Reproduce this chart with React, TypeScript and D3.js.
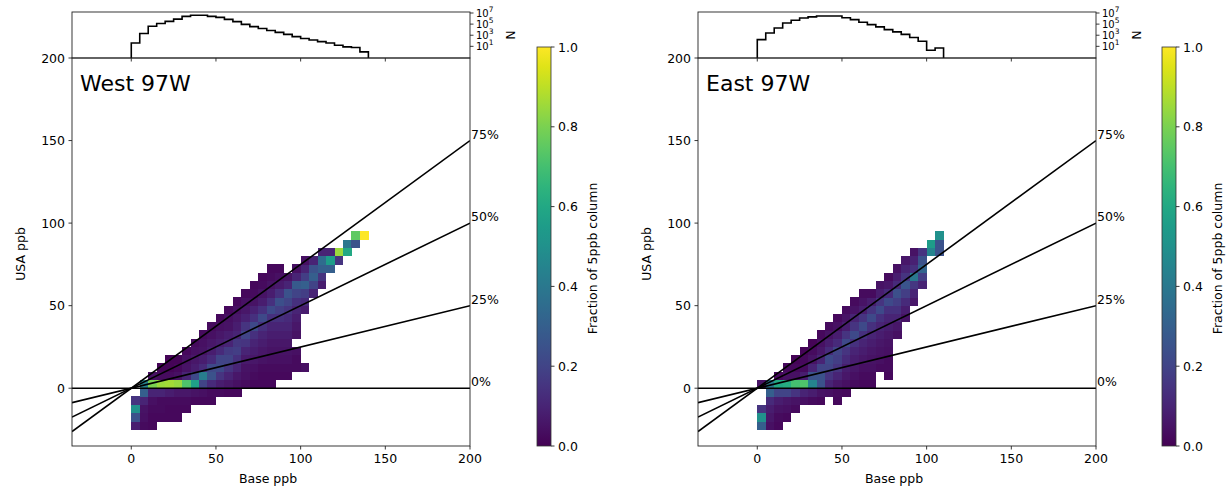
import React from 'react';
import * as d3 from 'd3';

// ---------- data ----------
const pctSlopes = [0.75, 0.5, 0.25, 0];
const pctLabels = ['75%', '50%', '25%', '0%'];
const xTickVals = [0, 50, 100, 150, 200];
const yTickVals = [0, 50, 100, 150, 200];
const histXTicks = [0, 50, 100, 150];
const histExpTicks = [1, 3, 5, 7];
const cbTickVals = [0, 0.2, 0.4, 0.6, 0.8, 1.0];
const cbTickLabels = ['0.0', '0.2', '0.4', '0.6', '0.8', '1.0'];
const binWidth = 5;

// N per 5 ppb Base bin (starting at 0 ppb)
const westHistN = [40, 2000, 40000, 125000, 316000, 800000, 2500000, 4000000, 4000000, 2500000,
  1600000, 700000, 280000, 90000, 35000, 16000, 7000, 3200, 1400, 560, 250, 140, 70, 40, 16, 8, 6, 1];
const eastHistN = [160, 2500, 20000, 160000, 500000, 1250000, 2000000, 2800000, 2800000, 2800000,
  1400000, 630000, 220000, 80000, 32000, 10000, 4000, 1400, 400, 80, 2, 5];

// lowest 5 ppb USA row of each Base column (row j covers 5j..5j+5)
const westColLo = [-5, -5, -5, -4, -4, -4, -3, -2, -2, -2, -1, -1, -1, 0, 0, 0, 0, 1, 1, 2, 2, 11, 12, 14, 15, 16, 17, 18];
// fraction of the column in each cell, from lowest row upward (null = empty)
const westColVals: (number | null)[][] = [
  [0.08, 0.25, 0.5, 0.15],
  [0.03, 0.04, 0.05, 0.1, 0.3, 0.45],
  [0.02, 0.02, 0.03, 0.04, 0.1, 0.8, 0.04],
  [0.02, 0.03, 0.03, 0.1, 0.85, 0.03, 0.01],
  [0.02, 0.02, 0.03, 0.08, 0.86, 0.03, 0.01, 0.01],
  [0.02, 0.02, 0.03, 0.06, 0.84, 0.04, 0.02, 0.01],
  [0.02, 0.03, 0.06, 0.72, 0.1, 0.05, 0.04, 0.02],
  [0.02, 0.05, 0.57, 0.22, 0.08, 0.06, 0.04, 0.03],
  [0.02, 0.04, 0.2, 0.42, 0.12, 0.08, 0.05, 0.04, 0.03],
  [0.02, 0.03, 0.12, 0.25, 0.22, 0.12, 0.08, 0.06, 0.04, 0.03],
  [0.03, 0.08, 0.15, 0.22, 0.2, 0.12, 0.08, 0.06, 0.04, 0.02],
  [0.02, 0.06, 0.1, 0.15, 0.2, 0.17, 0.1, 0.08, 0.05, 0.04, 0.02],
  [0.02, 0.04, 0.06, 0.1, 0.14, 0.18, 0.16, 0.1, 0.08, 0.06, 0.04, 0.02],
  [0.03, 0.04, 0.05, 0.07, 0.1, 0.15, 0.2, 0.15, 0.09, 0.06, 0.04, 0.02],
  [0.02, 0.03, 0.04, 0.06, 0.08, 0.1, 0.14, 0.22, 0.14, 0.09, 0.05, 0.03, 0.02],
  [0.02, 0.02, 0.03, 0.05, 0.06, 0.08, 0.1, 0.14, 0.22, 0.14, 0.08, 0.05, 0.03, 0.02],
  [0.02, 0.02, 0.03, 0.04, 0.05, 0.06, 0.08, 0.1, 0.14, 0.22, 0.14, 0.08, 0.05, 0.03, 0.02],
  [0.02, 0.03, 0.04, 0.05, 0.06, 0.08, 0.1, 0.14, 0.18, 0.24, 0.14, 0.07, 0.04, 0.02],
  [0.02, 0.03, 0.04, 0.05, 0.06, 0.08, 0.1, 0.12, 0.15, 0.2, 0.25, 0.1, 0.05],
  [0.03, 0.03, 0.04, null, 0.05, 0.06, 0.08, 0.1, 0.14, 0.2, 0.28, 0.1, 0.04],
  [0.04, null, null, null, null, null, null, 0.08, 0.12, 0.18, 0.3, 0.18, 0.1, 0.04],
  [0.1, 0.2, 0.3, 0.25, 0.1],
  [0.08, 0.15, 0.3, 0.35, 0.1],
  [0.3, 0.55, 0.1],
  [0.15, 0.85],
  [0.6, 0.4],
  [0.25, 0.75],
  [1.0],
];

const eastColLo = [-5, -5, -5, -4, -3, -2, -2, -2, -1, -2, -1, 0, 0, 0, 2, 1, 6, 8, 10, 12, 16, 16];
const eastColVals: (number | null)[][] = [
  [0.3, 0.5, 0.15, null, null, 0.05],
  [0.04, 0.06, 0.08, 0.12, 0.3, 0.4],
  [0.02, 0.03, 0.05, 0.08, 0.2, 0.6, 0.02],
  [0.02, 0.04, 0.06, 0.2, 0.62, 0.04, 0.02],
  [0.03, 0.05, 0.15, 0.7, 0.04, 0.02, 0.01],
  [0.04, 0.1, 0.72, 0.08, 0.03, 0.02, 0.01],
  [0.03, 0.08, 0.45, 0.25, 0.1, 0.05, 0.03, 0.01],
  [0.02, 0.05, 0.25, 0.25, 0.2, 0.1, 0.06, 0.04, 0.02],
  [0.04, 0.1, 0.15, 0.2, 0.22, 0.12, 0.08, 0.05, 0.03],
  [0.02, 0.03, 0.06, 0.1, 0.15, 0.18, 0.2, 0.12, 0.08, 0.04, 0.02],
  [0.02, 0.04, 0.06, 0.08, 0.12, 0.15, 0.22, 0.15, 0.08, 0.05, 0.03],
  [0.03, 0.04, 0.06, 0.08, 0.1, 0.14, 0.22, 0.15, 0.1, 0.05, 0.03],
  [0.02, 0.03, 0.04, 0.06, 0.08, 0.1, 0.14, 0.22, 0.15, 0.08, 0.05, 0.03],
  [0.02, 0.03, 0.04, 0.05, 0.06, 0.08, 0.1, 0.14, 0.22, 0.15, 0.08, 0.03],
  [0.03, 0.04, 0.05, 0.06, 0.08, 0.1, 0.14, 0.22, 0.15, 0.08, 0.05],
  [0.02, 0.03, 0.03, 0.04, 0.05, 0.06, 0.08, 0.1, 0.14, 0.22, 0.12, 0.06, 0.03],
  [0.04, 0.06, 0.1, 0.14, 0.18, 0.24, 0.12, 0.08, 0.04],
  [0.05, 0.08, 0.12, 0.18, 0.26, 0.15, 0.1, 0.06],
  [0.06, 0.1, 0.16, 0.4, 0.14, 0.09, 0.05],
  [0.1, 0.18, 0.32, 0.25, 0.15],
  [0.45, 0.55],
  [0.25, 0.25, 0.5],
];

const FONT = 'DejaVu Sans, sans-serif';
const TICK_FS = 12.5;

type PanelProps = {
  id: string;
  axL: number;
  axR: number;
  cbX: number;
  title: string;
  histN: number[];
  colLo: number[];
  colVals: (number | null)[][];
};

function Panel({ id, axL, axR, cbX, title, histN, colLo, colVals }: PanelProps) {
  const top = 58;
  const bottom = 446;
  const hTop = 12;
  const x = d3.scaleLinear().domain([-35, 200]).range([axL, axR]);
  const y = d3.scaleLinear().domain([-35, 200]).range([bottom, top]);
  const hMin = Math.pow(10, -1.1);
  const yh = d3.scaleLog().domain([hMin, Math.pow(10, 7.18)]).range([top, hTop]);
  const cbTop = 47;
  const cbBot = 446;
  const cbW = 14;
  const cb = d3.scaleLinear().domain([0, 1]).range([cbBot, cbTop]);

  const cells: { key: string; x: number; y: number; w: number; h: number; c: string }[] = [];
  colVals.forEach((vals, i) => {
    vals.forEach((v, k) => {
      if (v === null) return;
      const j = colLo[i] + k;
      const x0 = x(i * binWidth);
      const x1 = x((i + 1) * binWidth);
      const yT = y((j + 1) * binWidth);
      const yB = y(j * binWidth);
      cells.push({ key: `${i}_${j}`, x: x0, y: yT, w: x1 - x0, h: yB - yT, c: d3.interpolateViridis(v) });
    });
  });

  const pts: [number, number][] = [[0, hMin]];
  histN.forEach((n, i) => pts.push([i * binWidth, n]));
  pts.push([histN.length * binWidth, histN[histN.length - 1]]);
  pts.push([histN.length * binWidth, hMin]);
  const stepLine = d3
    .line<[number, number]>()
    .x((d) => x(d[0]))
    .y((d) => yh(d[1]))
    .curve(d3.curveStepAfter);

  const gradStops = d3.range(0, 1.0001, 0.05);
  const midY = (top + bottom) / 2;

  return (
    <g>
      <defs>
        <clipPath id={`clip-${id}`}>
          <rect x={axL} y={top} width={axR - axL} height={bottom - top} />
        </clipPath>
        <linearGradient id={`grad-${id}`} x1="0" y1="1" x2="0" y2="0">
          {gradStops.map((t) => (
            <stop key={t} offset={t} stopColor={d3.interpolateViridis(t)} />
          ))}
        </linearGradient>
      </defs>

      {/* heatmap */}
      <g shapeRendering="crispEdges">
        {cells.map((c) => (
          <rect key={c.key} x={c.x} y={c.y} width={c.w + 0.3} height={c.h + 0.3} fill={c.c} />
        ))}
      </g>

      {/* percentage lines */}
      <g clipPath={`url(#clip-${id})`}>
        {pctSlopes.map((s) => (
          <line key={s} x1={x(-35)} y1={y(-35 * s)} x2={x(200)} y2={y(200 * s)} stroke="#000" strokeWidth={1.6} />
        ))}
      </g>
      {pctSlopes.map((s, i) => (
        <text key={s} x={axR + 1} y={y(200 * s) - 2} fontSize={TICK_FS} fontFamily={FONT}>
          {pctLabels[i]}
        </text>
      ))}

      {/* main frame */}
      <rect x={axL} y={top} width={axR - axL} height={bottom - top} fill="none" stroke="#222" strokeWidth={0.9} />

      {/* x ticks */}
      {xTickVals.map((v) => (
        <g key={v}>
          <line x1={x(v)} x2={x(v)} y1={bottom} y2={bottom + 3.5} stroke="#222" strokeWidth={0.9} />
          <text x={x(v)} y={bottom + 7} dy="0.76em" textAnchor="middle" fontSize={TICK_FS} fontFamily={FONT}>
            {v}
          </text>
        </g>
      ))}
      {/* y ticks */}
      {yTickVals.map((v) => (
        <g key={v}>
          <line x1={axL - 3.5} x2={axL} y1={y(v)} y2={y(v)} stroke="#222" strokeWidth={0.9} />
          <text x={axL - 7} y={y(v)} dy="0.36em" textAnchor="end" fontSize={TICK_FS} fontFamily={FONT}>
            {v}
          </text>
        </g>
      ))}
      <text x={(axL + axR) / 2 - 3} y={483} textAnchor="middle" fontSize={TICK_FS} fontFamily={FONT}>
        Base ppb
      </text>
      <text
        transform={`translate(${axL - 47},${midY + 2}) rotate(-90)`}
        textAnchor="middle"
        fontSize={TICK_FS}
        fontFamily={FONT}
      >
        USA ppb
      </text>
      <text x={axL + 8} y={91} fontSize={22} fontFamily={FONT}>
        {title}
      </text>

      {/* histogram */}
      <path d={stepLine(pts) || ''} fill="none" stroke="#000" strokeWidth={1.6} strokeLinejoin="miter" />
      <rect x={axL} y={hTop} width={axR - axL} height={top - hTop} fill="none" stroke="#222" strokeWidth={0.9} />
      {histXTicks.map((v) => (
        <line key={v} x1={x(v)} x2={x(v)} y1={top} y2={top + 3.5} stroke="#222" strokeWidth={0.9} />
      ))}
      {histExpTicks.map((e) => {
        const ty = yh(Math.pow(10, e));
        return (
          <g key={e}>
            <line x1={axR} x2={axR + 3.5} y1={ty} y2={ty} stroke="#222" strokeWidth={0.9} />
            <text x={axR + 6} y={ty + 4} fontSize={10} fontFamily={FONT}>
              10
              <tspan dy={-5} fontSize={7.5}>
                {e}
              </tspan>
            </text>
          </g>
        );
      })}
      <text
        transform={`translate(${axR + 45},${(hTop + top) / 2}) rotate(-90)`}
        textAnchor="middle"
        fontSize={TICK_FS}
        fontFamily={FONT}
      >
        N
      </text>

      {/* colorbar */}
      <rect x={cbX} y={cbTop} width={cbW} height={cbBot - cbTop} fill={`url(#grad-${id})`} stroke="#333" strokeWidth={0.8} />
      {cbTickVals.map((v, i) => (
        <g key={v}>
          <line x1={cbX + cbW} x2={cbX + cbW + 3.5} y1={cb(v)} y2={cb(v)} stroke="#222" strokeWidth={0.9} />
          <text x={cbX + cbW + 7} y={cb(v)} dy="0.36em" fontSize={TICK_FS} fontFamily={FONT}>
            {cbTickLabels[i]}
          </text>
        </g>
      ))}
      <text
        transform={`translate(${cbX + cbW + 46},${(cbTop + cbBot) / 2 + 12}) rotate(-90)`}
        textAnchor="middle"
        fontSize={TICK_FS}
        fontFamily={FONT}
      >
        Fraction of 5ppb column
      </text>
    </g>
  );
}

export default function App() {
  return (
    <svg
      width={1232}
      height={492}
      viewBox="0 0 1232 492"
      style={{ position: 'absolute', left: 0, top: 0, background: '#fff' }}
    >
      <rect x={0} y={0} width={1232} height={492} fill="#fff" />
      <Panel
        id="west"
        axL={72}
        axR={470}
        cbX={537}
        title="West 97W"
        histN={westHistN}
        colLo={westColLo}
        colVals={westColVals}
      />
      <Panel
        id="east"
        axL={698}
        axR={1096}
        cbX={1162}
        title="East 97W"
        histN={eastHistN}
        colLo={eastColLo}
        colVals={eastColVals}
      />
    </svg>
  );
}
